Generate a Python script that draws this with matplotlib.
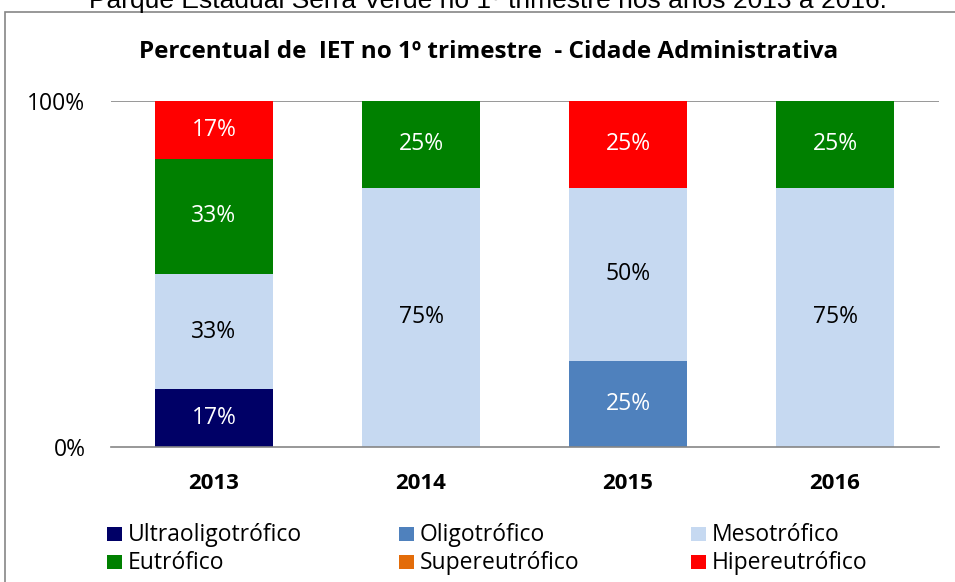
import numpy as np
import matplotlib.pyplot as plt
from matplotlib.patches import Rectangle

# data (percent of samples per class)
years = ['2013', '2014', '2015', '2016']
classes = ['Ultraoligotrófico', 'Oligotrófico', 'Mesotrófico',
           'Eutrófico', 'Supereutrófico', 'Hipereutrófico']
ultra = [16.67, 0, 0, 0]
oligo = [0, 0, 25, 0]
meso = [33.33, 75, 50, 75]
eutro = [33.33, 25, 0, 25]
super_ = [0, 0, 0, 0]
hiper = [16.67, 0, 25, 0]

colors = ['#000066', '#4F81BD', '#C6D9F1', '#008000', '#E36C09', '#FF0000']
text_colors = ['white', 'white', 'black', 'white', 'white', 'white']

plt.rcParams['font.family'] = ['Open Sans', 'DejaVu Sans']

W, H = 955, 582
fig = plt.figure(figsize=(W / 100, H / 100), dpi=100)


def px(x, y):
    # pixel coords (from top-left) -> figure fraction
    return x / W, 1 - y / H


# outer chart border
fig.patches.append(Rectangle((5 / W, -0.05), 1.0, 1 - 12 / H + 0.05,
                             transform=fig.transFigure, fill=False,
                             edgecolor='#868686', linewidth=1.2))

# caption cut off at the top of the image
fig.text(*px(488, 8), 'Parque Estadual Serra Verde no 1º trimestre nos anos 2013 a 2016.',
         ha='center', va='baseline', fontsize=19, family='Liberation Sans')

ax = fig.add_axes([110.5 / W, 1 - 447 / H, 828 / W, 346 / H])

x = np.arange(len(years))
series = [ultra, oligo, meso, eutro, super_, hiper]
bottom = np.zeros(len(years))
for vals, col, tc in zip(series, colors, text_colors):
    vals = np.array(vals)
    ax.bar(x, vals, 0.57, bottom=bottom, color=col, zorder=2)
    for xi, b, v in zip(x, bottom, vals):
        if v > 0:
            ax.text(xi, b + v / 2, f'{v:.0f}%', ha='center', va='center',
                    color=tc, fontsize=16.5)
    bottom += vals

ax.set_xlim(-0.5, 3.5)
ax.set_ylim(0, 100)
ax.set_yticks([0, 100])
ax.set_yticklabels(['0%', '100%'], fontsize=16.5)
ax.set_xticks(x)
ax.set_xticklabels(years, fontsize=16, fontweight='bold')
ax.tick_params(length=0)
ax.tick_params(axis='x', pad=19)
ax.tick_params(axis='y', pad=18)
ax.axhline(100, color='#868686', linewidth=1.2, zorder=1)
for s in ['top', 'right', 'left']:
    ax.spines[s].set_visible(False)
ax.spines['bottom'].set_color('#868686')
ax.spines['bottom'].set_linewidth(1.2)

fig.text(*px(489, 52), 'Percentual de  IET no 1º trimestre  - Cidade Administrativa',
         ha='center', va='center', fontsize=17.5, fontweight='bold')

# legend, laid out in rows like the original
col_x = [107, 399, 691]
row_y = [534, 562]
for i, (name, col) in enumerate(zip(classes, colors)):
    cx, cy = col_x[i % 3], row_y[i // 3]
    fig.patches.append(Rectangle(px(cx, cy + 7), 15 / W, 14 / H,
                                 transform=fig.transFigure, facecolor=col,
                                 edgecolor='none'))
    fig.text(*px(cx + 21, cy + 1), name, ha='left', va='center', fontsize=16.5)

fig.savefig('out.png', dpi=100)
